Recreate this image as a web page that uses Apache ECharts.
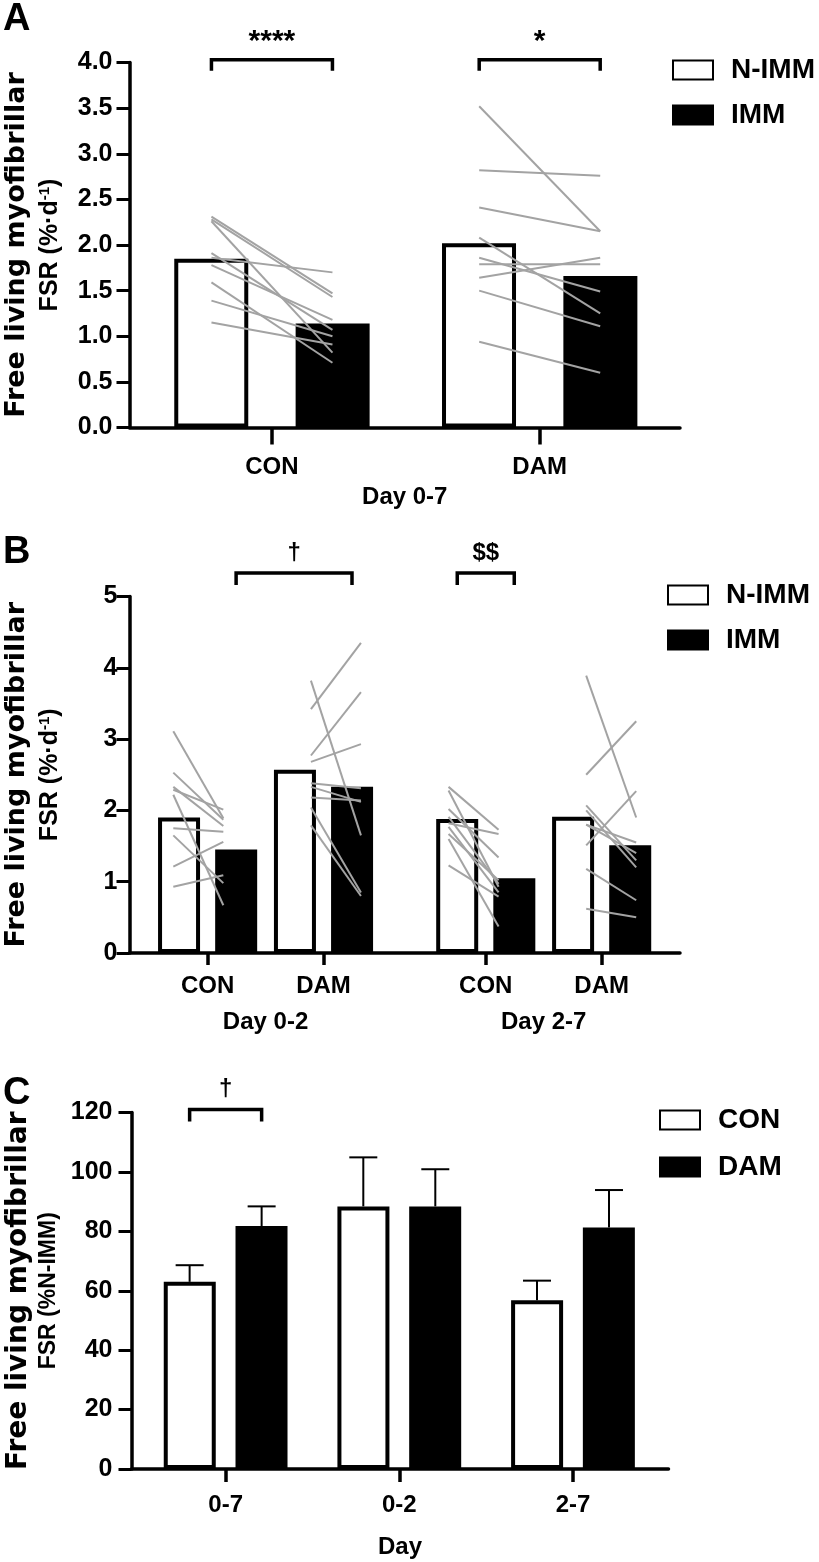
<!DOCTYPE html>
<html><head><meta charset="utf-8">
<script src="https://cdn.jsdelivr.net/npm/echarts@6/dist/echarts.min.js"></script>
<style>html,body{margin:0;padding:0;background:#fff}#c{width:819px;height:1562px}</style>
</head><body><div id="c"></div>
<script>
// ================= DATA =================
// Panel A : Day 0-7
const catsA = ['CON', 'DAM'];
const posA = [1, 2];
const nimmA = [1.85, 2.02];
const immA = [1.14, 1.66];
const pairsA_CON = [[2.31,1.47],[2.28,1.43],[2.26,0.82],[1.91,1.07],[1.86,1.70],[1.78,1.18],[1.59,0.71],[1.39,1.00],[1.15,0.91]];
const pairsA_DAM = [[3.52,2.15],[2.82,2.76],[2.41,2.15],[2.08,1.25],[1.86,1.49],[1.79,1.79],[1.64,1.86],[1.50,1.11],[0.94,0.60]];
const sigA = ['****', '*'];

// Panel B : Day 0-2 / Day 2-7
const catsB = ['CON', 'DAM', 'CON', 'DAM'];
const groupsB = ['Day 0-2', 'Day 2-7'];
const posB = [1, 2, 3.4, 4.4];
const groupPosB = [1.5, 3.9];
const nimmB = [1.90, 2.57, 1.88, 1.91];
const immB = [1.45, 2.33, 1.05, 1.51];
const pairsB_CON02 = [[3.11,1.89],[2.53,1.87],[2.33,1.78],[2.29,2.01],[2.22,0.67],[1.75,1.70],[1.65,0.98],[1.21,1.56],[0.93,1.09]];
const pairsB_DAM02 = [[3.42,4.35],[3.82,1.65],[2.77,3.66],[2.68,2.93],[2.38,2.31],[2.33,2.12],[2.18,2.14],[2.04,0.85],[1.79,0.80]];
const pairsB_CON27 = [[2.33,1.73],[2.28,0.93],[2.02,1.34],[1.82,1.67],[1.77,0.85],[1.60,0.37],[1.23,0.79],[1.91,0.97],[1.67,1.02]];
const pairsB_DAM27 = [[3.89,1.90],[2.50,3.25],[1.51,2.27],[2.07,1.30],[2.00,1.20],[1.80,1.55],[1.18,0.74],[0.62,0.50],[1.80,1.40]];
// significance: [label, fromCatIndex, fromSeries, toCatIndex, toSeries]
const sigB = [['\u2020', 0, 'IMM', 1, 'IMM'], ['$$', 2, 'N-IMM', 2, 'IMM']];

// Panel C : % of N-IMM
const catsC = ['0-7', '0-2', '2-7'];
const posC = [1, 2, 3];
const conC = [63.0, 88.4, 56.8];
const damC = [81.8, 88.4, 81.3];
const semConC = [5.6, 16.5, 6.6];
const semDamC = [6.6, 12.5, 12.6];
const sigC = [['\u2020', 0, 'CON', 0, 'DAM']];

// ================= STYLE HELPERS =================
const FF = '"Liberation Sans", Arial, sans-serif';
const BLACK = '#000';
const GREY = '#a3a3a3';
const lab = (size) => ({ fontFamily: FF, fontWeight: 'bold', fontSize: size, color: BLACK });

function yName(line1, line2rich, s1, s2, lh) {
  return {
    name: '{t1|' + line1 + '}\n' + line2rich,
    nameLocation: 'middle', nameRotate: 90,
    nameTextStyle: { fontFamily: FF, fontWeight: 'bold', fontSize: s2, color: BLACK, rich: {
      t1: { fontFamily: '"DejaVu Sans", sans-serif', fontWeight: 'bold', fontSize: s1, lineHeight: lh, color: BLACK },
      t2: { fontFamily: FF, fontWeight: 'bold', fontSize: s2, lineHeight: lh, color: BLACK },
      sp: { fontFamily: FF, fontWeight: 'bold', fontSize: Math.round(s2 * 0.6), verticalAlign: 'top', padding: [4, 0, 0, 0], color: BLACK }
    } }
  };
}

function yAxisCfg(grid, max, interval, fmt, nameCfg, gap, labSize, margin) {
  return Object.assign({
    type: 'value', gridIndex: grid, min: 0, max: max, interval: interval,
    nameGap: gap,
    axisLine: { show: true, onZero: false, lineStyle: { color: BLACK, width: 3.5 } },
    axisTick: { show: true, length: 13, lineStyle: { color: BLACK, width: 3 } },
    axisLabel: Object.assign(lab(labSize), { margin: margin, formatter: fmt }),
    splitLine: { show: false }
  }, nameCfg);
}

function xAxisCfg(grid, min, max, ticks, labels, tickLen, margin, extra) {
  return Object.assign({
    type: 'value', gridIndex: grid, min: min, max: max, position: 'bottom',
    axisLine: { show: true, onZero: false, lineStyle: { color: BLACK, width: 3.5 } },
    axisTick: { show: true, customValues: ticks, length: tickLen, lineStyle: { color: BLACK, width: 3.5 } },
    axisLabel: Object.assign(lab(24), { margin: margin, customValues: ticks,
      formatter: (v) => { const i = ticks.indexOf(v); return i >= 0 ? labels[i] : ''; } }),
    splitLine: { show: false }
  }, extra || {});
}

// paired individual lines (custom series, drawn through the axis scales)
function pairSeries(xIdx, yIdx, xs, pairsList, off) {
  const data = [];
  pairsList.forEach((pairs, i) => pairs.forEach(p => data.push([xs[i], p[0], p[1]])));
  return {
    type: 'custom', xAxisIndex: xIdx, yAxisIndex: yIdx, z: 5, silent: true,
    encode: { x: 0, y: [1, 2] },
    data: data,
    renderItem: (params, api) => {
      const p1 = api.coord([api.value(0), api.value(1)]);
      const p2 = api.coord([api.value(0), api.value(2)]);
      return { type: 'line', shape: { x1: p1[0] - off, y1: p1[1], x2: p2[0] + off, y2: p2[1] },
        style: { stroke: GREY, lineWidth: 2 } };
    }
  };
}

// significance brackets
function bracketSeries(xIdx, yIdx, xs, sig, sideNames, off, yVal, leg, textGap, fontSize) {
  const data = sig.map(s => [xs[s[1]], xs[s[3]], yVal, s[2] === sideNames[0] ? -1 : 1, s[4] === sideNames[0] ? -1 : 1]);
  return {
    type: 'custom', xAxisIndex: xIdx, yAxisIndex: yIdx, z: 6, silent: true, clip: false,
    data: data,
    renderItem: (params, api) => {
      const a = api.coord([api.value(0), api.value(2)]);
      const b = api.coord([api.value(1), api.value(2)]);
      const L = a[0] + api.value(3) * off, R = b[0] + api.value(4) * off, Y = a[1];
      return { type: 'group', children: [
        { type: 'polyline', shape: { points: [[L, Y + leg], [L, Y], [R, Y], [R, Y + leg]] },
          style: { stroke: BLACK, lineWidth: 3.5, fill: 'none' } },
        { type: 'text', style: { text: sig[params.dataIndex][0], x: (L + R) / 2, y: Y - textGap,
          align: 'center', verticalAlign: 'middle', fontFamily: FF, fontWeight: 'bold', fontSize: fontSize, fill: BLACK } }
      ] };
    }
  };
}

function barPair(name1, name2, xIdx, yIdx, xs, v1, v2, w, gap) {
  const base = { type: 'bar', xAxisIndex: xIdx, yAxisIndex: yIdx, barWidth: w, barGap: gap, z: 2, silent: true };
  return [
    Object.assign({}, base, { name: name1, data: xs.map((p, i) => [p, v1[i]]),
      itemStyle: { color: '#fff', borderColor: BLACK, borderWidth: 4 } }),
    Object.assign({}, base, { name: name2, data: xs.map((p, i) => [p, v2[i]]),
      itemStyle: { color: BLACK, borderColor: BLACK, borderWidth: 4 } })
  ];
}

function errSeries(xIdx, yIdx, xs, means, sems, side, off, cap) {
  return {
    type: 'custom', xAxisIndex: xIdx, yAxisIndex: yIdx, z: 4, silent: true,
    encode: { x: 0, y: [1, 2] },
    data: xs.map((p, i) => [p, means[i], means[i] + sems[i]]),
    renderItem: (params, api) => {
      const a = api.coord([api.value(0), api.value(1)]);
      const b = api.coord([api.value(0), api.value(2)]);
      const X = a[0] + side * off;
      return { type: 'group', children: [
        { type: 'line', shape: { x1: X, y1: a[1], x2: X, y2: b[1] }, style: { stroke: BLACK, lineWidth: 2 } },
        { type: 'line', shape: { x1: X - cap, y1: b[1], x2: X + cap, y2: b[1] }, style: { stroke: BLACK, lineWidth: 2 } }
      ] };
    }
  };
}

function legendCfg(names, left, top, gap) {
  return {
    data: names, left: left, top: top, orient: 'vertical', selectedMode: false,
    icon: 'rect', itemWidth: 40, itemHeight: 19, itemGap: gap, padding: 0,
    textStyle: { fontFamily: FF, fontWeight: 'bold', fontSize: 28, lineHeight: 26, color: BLACK, padding: [0, 0, 0, 13] }
  };
}

const supRich = '{t2|FSR (%\u00b7d}{sp|-1}{t2|)}';

const option = {
  animation: false,
  backgroundColor: '#fff',
  title: [
    { text: 'A', left: 3, top: 1, padding: 0, textStyle: { fontFamily: FF, fontWeight: 'bold', fontSize: 38, color: BLACK } },
    { text: 'B', left: 3, top: 534, padding: 0, textStyle: { fontFamily: FF, fontWeight: 'bold', fontSize: 38, color: BLACK } },
    { text: 'C', left: 3, top: 1075, padding: 0, textStyle: { fontFamily: FF, fontWeight: 'bold', fontSize: 38, color: BLACK } }
  ],
  grid: [
    { left: 129.5, top: 62.5, width: 550.5, height: 365, outerBoundsMode: 'none' },
    { left: 129.5, top: 596.5, width: 550.5, height: 356.5, outerBoundsMode: 'none' },
    { left: 131.5, top: 1112.5, width: 537, height: 356.5, outerBoundsMode: 'none' }
  ],
  legend: [
    legendCfg(['N-IMM', 'IMM'], 672, 56, 17),
    legendCfg(['N-IMM', 'IMM'], 667, 581, 17),
    legendCfg(['CON', 'DAM'], 659, 1106, 19)
  ],
  xAxis: [
    xAxisCfg(0, 0.468, 2.524, posA, catsA, 17, 28, { name: 'Day 0-7', nameLocation: 'middle', nameGap: 58, nameTextStyle: lab(24) }),
    xAxisCfg(1, 0.326, 5.076, posB, catsB, 12, 21, {}),
    xAxisCfg(1, 0.326, 5.076, groupPosB, groupsB, 0, 57, { axisLine: { show: false }, axisTick: { show: false } }),
    { type: 'category', gridIndex: 1, data: ['c1', 'c2', 'c3', 'c4'], show: false, boundaryGap: true },
    xAxisCfg(2, 0.458, 3.55, posC, catsC, 13, 24, { name: 'Day', nameLocation: 'middle', nameGap: 66, nameTextStyle: lab(24) })
  ],
  yAxis: [
    yAxisCfg(0, 4, 0.5, v => v.toFixed(1), yName('Free living myofibrillar', supRich, 27, 25, 34), 62, 25, 17),
    yAxisCfg(1, 5, 1, v => String(v), yName('Free living myofibrillar', supRich, 27, 25, 34), 62, 25, 12),
    yAxisCfg(2, 120, 20, v => String(v), yName('Free living myofibrillar', '{t2|FSR (%N-IMM)}', 28, 23, 30), 68, 25, 19)
  ],
  series: [].concat(
    barPair('N-IMM', 'IMM', 0, 0, posA, nimmA, immA, 74, '64%'),
    [pairSeries(0, 0, posA, [pairsA_CON, pairsA_DAM], 60.5)],
    [bracketSeries(0, 0, posA, sigA.map((t, i) => [t, i, 'N-IMM', i, 'IMM']), ['N-IMM', 'IMM'], 60.5, 4.03, 11, 18, 30)],
    barPair('N-IMM', 'IMM', 1, 1, posB, nimmB, immB, 42, '36%'),
    [pairSeries(3, 1, [0, 1, 2, 3], [pairsB_CON02, pairsB_DAM02, pairsB_CON27, pairsB_DAM27], 25)],
    [bracketSeries(1, 1, posB, sigB, ['N-IMM', 'IMM'], 28.5, 5.33, 12, 20, 24)],
    barPair('CON', 'DAM', 4, 2, posC, conC, damC, 52, '38%'),
    [errSeries(4, 2, posC, conC, semConC, -1, 36, 14), errSeries(4, 2, posC, damC, semDamC, 1, 36, 14)],
    [bracketSeries(4, 2, posC, sigC, ['CON', 'DAM'], 36, 121, 12, 20, 24)]
  )
};

const chart = echarts.init(document.getElementById('c'), null, { renderer: 'canvas', width: 819, height: 1562 });
chart.setOption(option);
</script>
</body></html>
